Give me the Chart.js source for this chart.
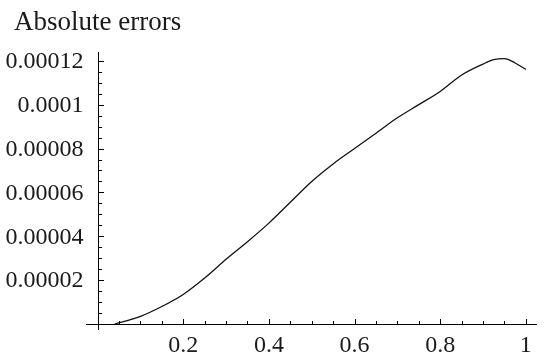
<!DOCTYPE html>
<html>
<head>
<meta charset="utf-8">
<script src="https://cdn.jsdelivr.net/npm/chart.js@4"></script>
<style>
html,body{margin:0;padding:0;background:#fff;}
#wrap{width:547px;height:353px;position:relative;}
</style>
</head>
<body>
<div id="wrap"><canvas id="c" width="547" height="353"></canvas></div>
<script>
const title = "Absolute errors";
const xValues = [0.04, 0.05, 0.1, 0.15, 0.2, 0.25, 0.3, 0.35, 0.4, 0.45, 0.5, 0.55, 0.6, 0.65, 0.7, 0.75, 0.8, 0.85, 0.9, 0.925, 0.95, 0.975, 1.0];
const errors  = [0, 0.0000005, 0.0000035, 0.000008, 0.0000135, 0.000021, 0.0000295, 0.0000375, 0.000046, 0.0000555, 0.000065, 0.000073, 0.00008, 0.000087, 0.000094, 0.0001, 0.000106, 0.0001135, 0.0001185, 0.0001205, 0.000121, 0.000119, 0.000116];
const xTickValues = [0.2, 0.4, 0.6, 0.8, 1];
const xTickLabels = ["0.2", "0.4", "0.6", "0.8", "1"];
const yTickValues = [0.00002, 0.00004, 0.00006, 0.00008, 0.0001, 0.00012];
const yTickLabels = ["0.00002", "0.00004", "0.00006", "0.00008", "0.0001", "0.00012"];
const xMinorStep = 0.05;
const yMinorStep = 0.000005;

const FONT = "24px 'Liberation Serif', 'Times New Roman', serif";
const TITLE_FONT = "27px 'Liberation Serif', 'Times New Roman', serif";

const axesPlugin = {
  id: 'mmaAxes',
  afterDraw(chart) {
    const ctx = chart.ctx;
    const xs = chart.scales.x, ys = chart.scales.y;
    const x0 = xs.getPixelForValue(0);
    const y0 = ys.getPixelForValue(0);
    ctx.save();
    ctx.strokeStyle = '#000';
    ctx.lineWidth = 1;
    ctx.beginPath();
    ctx.moveTo(Math.round(x0) + 0.5, ys.top);
    ctx.lineTo(Math.round(x0) + 0.5, ys.bottom);
    ctx.moveTo(xs.left, Math.round(y0) + 0.5);
    ctx.lineTo(xs.right, Math.round(y0) + 0.5);
    ctx.stroke();
    ctx.beginPath();
    for (let v = xMinorStep; v <= 1.0001; v += xMinorStep) {
      const px = Math.round(xs.getPixelForValue(v)) + 0.5;
      const isMajor = xTickValues.some(t => Math.abs(t - v) < 1e-9);
      const len = isMajor ? 5 : 3;
      ctx.moveTo(px, Math.round(y0));
      ctx.lineTo(px, Math.round(y0) - len);
    }
    for (let v = yMinorStep; v <= 0.000120001; v += yMinorStep) {
      const py = Math.round(ys.getPixelForValue(v)) + 0.5;
      const isMajor = yTickValues.some(t => Math.abs(t - v) < 1e-12);
      const len = isMajor ? 5 : 3;
      ctx.moveTo(Math.round(x0) + 1, py);
      ctx.lineTo(Math.round(x0) + 1 + len, py);
    }
    ctx.stroke();
    ctx.fillStyle = '#1a1a1a';
    ctx.font = FONT;
    ctx.textAlign = 'center';
    ctx.textBaseline = 'alphabetic';
    xTickValues.forEach((v, i) => {
      ctx.fillText(xTickLabels[i], xs.getPixelForValue(v), y0 + 28);
    });
    ctx.textAlign = 'right';
    ctx.textBaseline = 'middle';
    yTickValues.forEach((v, i) => {
      ctx.fillText(yTickLabels[i], x0 - 14, ys.getPixelForValue(v) + 1);
    });
    ctx.font = TITLE_FONT;
    ctx.textAlign = 'left';
    ctx.textBaseline = 'alphabetic';
    ctx.fillText(title, 14, 30);
    ctx.restore();
  }
};

new Chart(document.getElementById('c'), {
  type: 'line',
  data: {
    datasets: [{
      data: xValues.map((x, i) => ({x: x, y: errors[i]})),
      borderColor: '#111',
      borderWidth: 1.3,
      pointRadius: 0,
      cubicInterpolationMode: 'monotone',
      fill: false
    }]
  },
  options: {
    responsive: false,
    animation: false,
    devicePixelRatio: 1,
    layout: { padding: { left: 86, right: 10, top: 52, bottom: 23 } },
    plugins: { legend: { display: false }, tooltip: { enabled: false }, title: { display: false } },
    scales: {
      x: { type: 'linear', min: -0.027, max: 1.026, display: false },
      y: { type: 'linear', min: -0.0000027, max: 0.000124, display: false }
    }
  },
  plugins: [axesPlugin]
});
</script>
</body>
</html>
